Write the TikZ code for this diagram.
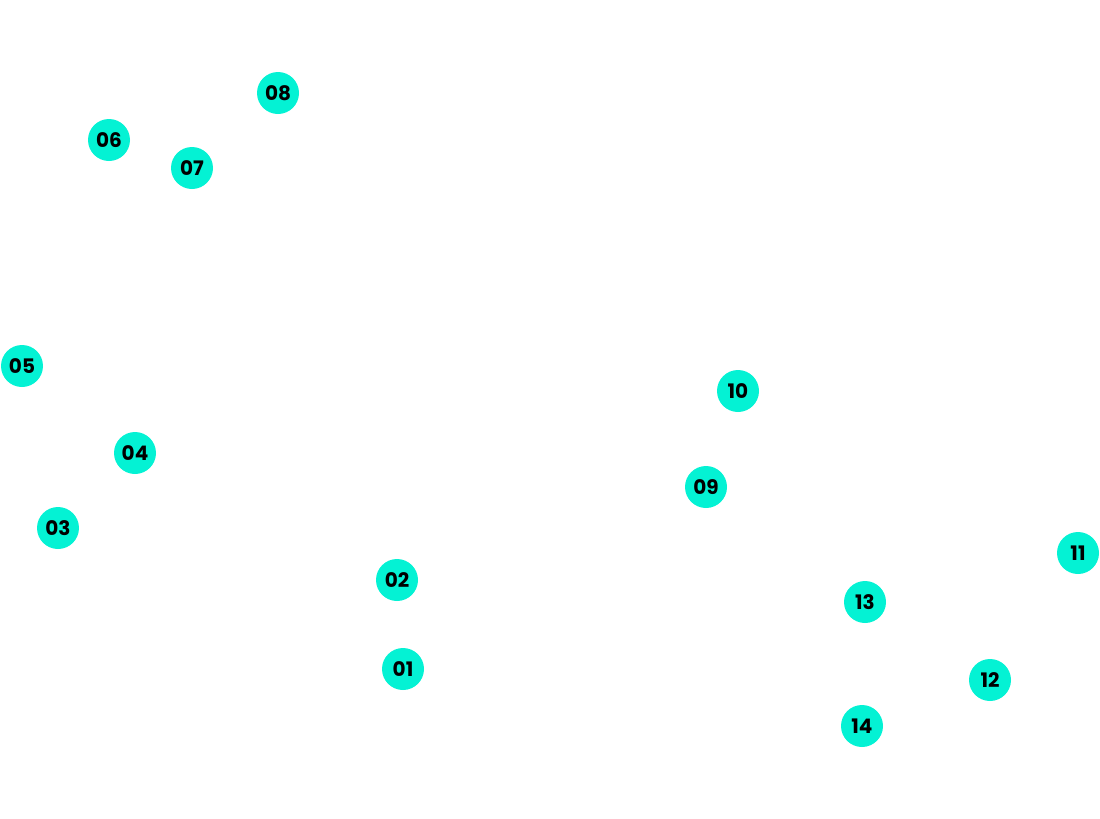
\documentclass[tikz,border=0pt]{standalone}
\usepackage{fontspec}
\newfontfamily\labelfont{Poppins}
\begin{document}
\begin{tikzpicture}[x=0.75pt,y=0.75pt,yscale=-1,xscale=1,
        spot/.style={circle,fill={rgb, 255:red, 4; green, 242; blue, 212 },draw=none,minimum size=31.5pt,inner sep=0pt,font=\labelfont\bfseries\fontsize{15}{15}\selectfont,text=black}]
        %set diagram size
        \useasboundingbox (0,0) rectangle (1100,818);

        % Shape: Circle nodes
        \node [spot] (p01) at (403,669) {01};
        \node [spot] (p02) at (397,580) {02};
        \node [spot] (p03) at (58,528) {03};
        \node [spot] (p04) at (135,453) {04};
        \node [spot] (p05) at (22,366) {05};
        \node [spot] (p06) at (109,140) {06};
        \node [spot] (p07) at (192,168) {07};
        \node [spot] (p08) at (278,93) {08};
        \node [spot] (p09) at (706,487) {09};
        \node [spot] (p10) at (738,391) {10};
        \node [spot] (p11) at (1078,553) {11};
        \node [spot] (p12) at (990,680) {12};
        \node [spot] (p13) at (865,602) {13};
        \node [spot] (p14) at (862,726) {14};

    \end{tikzpicture}
\end{document}
